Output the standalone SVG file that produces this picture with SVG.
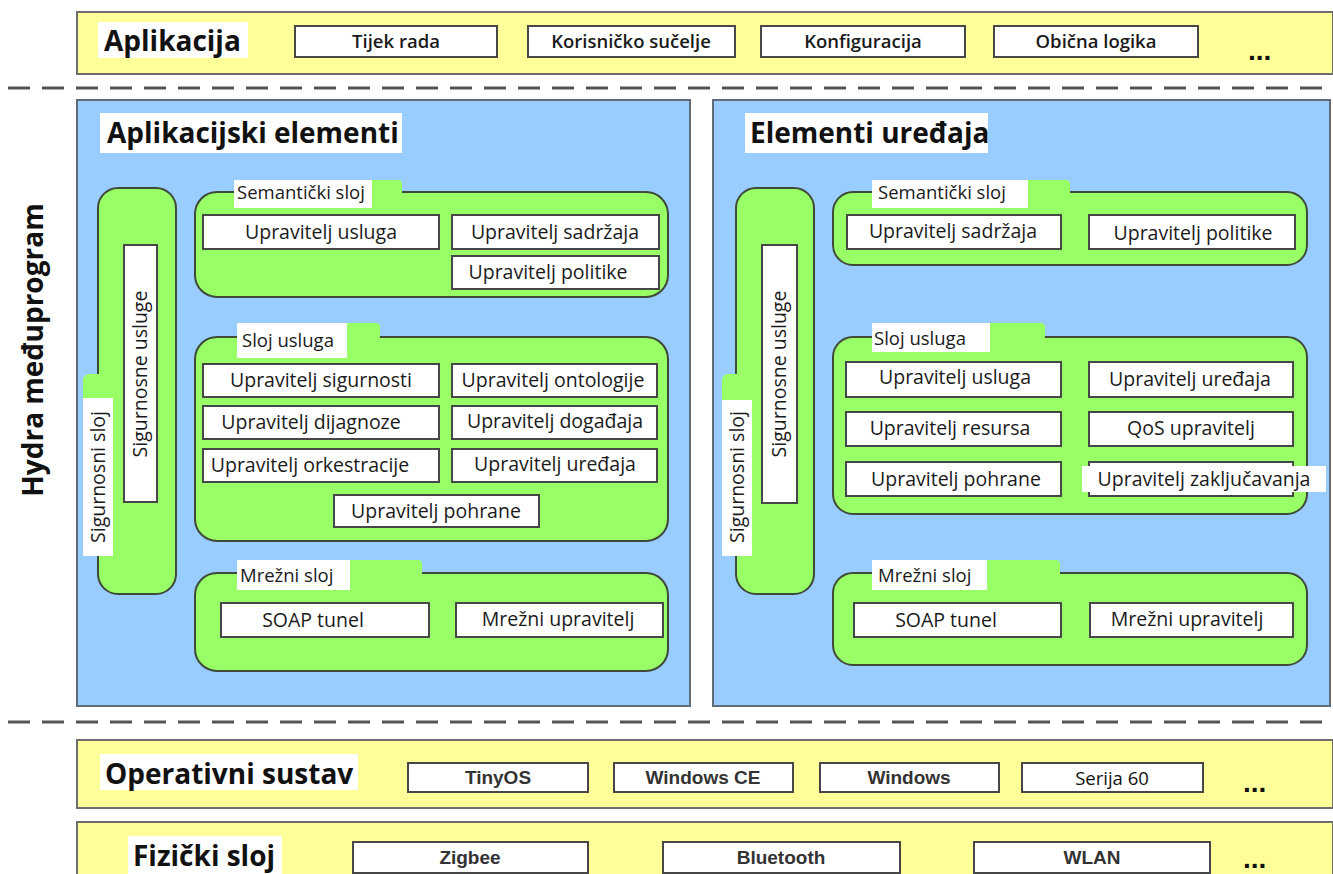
<svg xmlns="http://www.w3.org/2000/svg" width="1333" height="874" viewBox="0 0 1333 874">
  <style>
    .bar { fill: #ffff99; stroke: #6e6e6e; stroke-width: 2; }
    .panel { fill: #99ccff; stroke: #5f6b78; stroke-width: 2; }
    .layer { fill: #99ff66; stroke: #3e4a3a; stroke-width: 2; }
    .tab { fill: #99ff66; }
    .lbl { fill: #ffffff; }
    .box { fill: #ffffff; stroke: #474747; stroke-width: 2; }
    .sep { stroke: #555555; stroke-width: 3; stroke-dasharray: 22 12; fill: none; }
    .head { font-family: "Open Sans", "Noto Sans", sans-serif; font-weight: 700; font-size: 28px; fill: #111111; }
    .item { font-family: "Open Sans", "Noto Sans", sans-serif; font-size: 19.5px; fill: #1a1a1a; text-anchor: middle; }
    .tabt { font-family: "Open Sans", "Noto Sans", sans-serif; font-size: 18.5px; fill: #1a1a1a; }
    .vert { font-family: "Open Sans", "Noto Sans", sans-serif; font-size: 19.5px; fill: #1a1a1a; text-anchor: middle; }
    .top { font-family: "Open Sans", "Noto Sans", sans-serif; font-weight: 600; font-size: 18.5px; fill: #1a1a1a; text-anchor: middle; }
    .plain { font-family: "Open Sans", "Noto Sans", sans-serif; font-weight: 400; font-size: 18.5px; fill: #111111; text-anchor: middle; }
    .os { font-family: "Liberation Sans", Arial, sans-serif; font-weight: 700; font-size: 19px; fill: #333333; text-anchor: middle; }
    .dots { font-family: "Liberation Sans", Arial, sans-serif; font-weight: 700; font-size: 28px; fill: #111111; }
  </style>

  <rect width="1333" height="874" fill="#ffffff"/>

  <!-- side caption -->
  <text class="head" transform="translate(43,350) rotate(-90)" text-anchor="middle" font-size="29">Hydra međuprogram</text>

  <!-- application bar -->
  <g id="aplikacija">
    <rect class="bar" x="77" y="12" width="1256" height="62"/>
    <rect class="lbl" x="98" y="22" width="150" height="36"/>
    <text class="head" x="104" y="51" font-size="30">Aplikacija</text>
    <rect class="box" x="295" y="26" width="202" height="31"/>
    <text class="top" x="396" y="48">Tijek rada</text>
    <rect class="box" x="528" y="26" width="207" height="31"/>
    <text class="top" x="631" y="48">Korisničko sučelje</text>
    <rect class="box" x="761" y="26" width="204" height="31"/>
    <text class="top" x="863" y="48">Konfiguracija</text>
    <rect class="box" x="994" y="26" width="204" height="31"/>
    <text class="top" x="1096" y="48">Obična logika</text>
    <text class="dots" x="1248" y="60">...</text>
  </g>

  <!-- layer separators -->
  <g id="separators">
    <line class="sep" x1="8" y1="88" x2="1333" y2="88"/>
    <line class="sep" x1="8" y1="722" x2="1333" y2="722"/>
  </g>

  <!-- application elements -->
  <g id="aplikacijski-elementi">
    <rect class="panel" x="77" y="100" width="613" height="606"/>
    <rect class="lbl" x="100" y="113" width="302" height="40"/>
    <text class="head" x="107" y="143">Aplikacijski elementi</text>

    <!-- security column -->
    <rect class="layer" x="98" y="188" width="78" height="406" rx="20"/>
    <rect class="tab" x="83" y="374" width="22" height="30" rx="6"/>
    <rect class="lbl" x="83" y="398" width="30" height="158"/>
    <text class="vert" transform="translate(105,477) rotate(-90)">Sigurnosni sloj</text>
    <rect class="box" x="124" y="245" width="33" height="257"/>
    <text class="vert" transform="translate(147,374) rotate(-90)">Sigurnosne usluge</text>

    <!-- semantic layer -->
    <rect class="layer" x="195" y="192" width="473" height="105" rx="22"/>
    <rect class="tab" x="360" y="180" width="42" height="16" rx="4"/>
    <rect class="lbl" x="234" y="180" width="138" height="28"/>
    <text class="tabt" x="237" y="199">Semantički sloj</text>
    <rect class="box" x="203" y="215" width="236" height="34"/>
    <text class="item" x="321" y="239">Upravitelj usluga</text>
    <rect class="box" x="452" y="215" width="207" height="34"/>
    <text class="item" x="555" y="239">Upravitelj sadržaja</text>
    <rect class="box" x="452" y="256" width="207" height="33"/>
    <text class="item" x="548" y="279">Upravitelj politike</text>

    <!-- service layer -->
    <rect class="layer" x="195" y="337" width="473" height="204" rx="22"/>
    <rect class="tab" x="340" y="323" width="40" height="17" rx="4"/>
    <rect class="lbl" x="237" y="323" width="110" height="35"/>
    <text class="tabt" x="242" y="347">Sloj usluga</text>
    <rect class="box" x="203" y="364" width="236" height="33"/>
    <text class="item" x="321" y="387">Upravitelj sigurnosti</text>
    <rect class="box" x="452" y="364" width="205" height="33"/>
    <text class="item" x="553" y="387">Upravitelj ontologije</text>
    <rect class="box" x="203" y="406" width="236" height="33"/>
    <text class="item" x="311" y="429">Upravitelj dijagnoze</text>
    <rect class="box" x="452" y="406" width="205" height="33"/>
    <text class="item" x="555" y="428">Upravitelj događaja</text>
    <rect class="box" x="203" y="449" width="236" height="33"/>
    <text class="item" x="310" y="472">Upravitelj orkestracije</text>
    <rect class="box" x="452" y="449" width="205" height="33"/>
    <text class="item" x="555" y="471">Upravitelj uređaja</text>
    <rect class="box" x="334" y="495" width="205" height="32"/>
    <text class="item" x="436" y="518">Upravitelj pohrane</text>

    <!-- network layer -->
    <rect class="layer" x="195" y="573" width="473" height="98" rx="22"/>
    <rect class="tab" x="345" y="560" width="77" height="17" rx="4"/>
    <rect class="lbl" x="237" y="560" width="113" height="30"/>
    <text class="tabt" x="240" y="582">Mrežni sloj</text>
    <rect class="box" x="221" y="603" width="208" height="34"/>
    <text class="item" x="313" y="627">SOAP tunel</text>
    <rect class="box" x="456" y="603" width="207" height="34"/>
    <text class="item" x="558" y="626">Mrežni upravitelj</text>
  </g>

  <!-- device elements -->
  <g id="elementi-uredaja">
    <rect class="panel" x="713" y="100" width="617" height="606"/>
    <rect class="lbl" x="745" y="113" width="243" height="40"/>
    <text class="head" x="750" y="143">Elementi uređaja</text>

    <!-- security column -->
    <rect class="layer" x="736" y="188" width="78" height="406" rx="20"/>
    <rect class="tab" x="722" y="374" width="30" height="30" rx="6"/>
    <rect class="lbl" x="722" y="400" width="30" height="156"/>
    <text class="vert" transform="translate(744,477) rotate(-90)">Sigurnosni sloj</text>
    <rect class="box" x="762" y="245" width="35" height="258"/>
    <text class="vert" transform="translate(786,374) rotate(-90)">Sigurnosne usluge</text>

    <!-- semantic layer -->
    <rect class="layer" x="833" y="192" width="474" height="73" rx="20"/>
    <rect class="tab" x="1015" y="180" width="55" height="16" rx="4"/>
    <rect class="lbl" x="872" y="180" width="156" height="28"/>
    <text class="tabt" x="878" y="199">Semantički sloj</text>
    <rect class="box" x="847" y="215" width="214" height="34"/>
    <text class="item" x="953" y="238">Upravitelj sadržaja</text>
    <rect class="box" x="1089" y="215" width="206" height="34"/>
    <text class="item" x="1193" y="240">Upravitelj politike</text>

    <!-- service layer -->
    <rect class="layer" x="833" y="337" width="474" height="177" rx="20"/>
    <rect class="tab" x="985" y="323" width="60" height="17" rx="4"/>
    <rect class="lbl" x="872" y="323" width="118" height="29"/>
    <text class="tabt" x="874" y="345">Sloj usluga</text>
    <rect class="box" x="846" y="362" width="215" height="35"/>
    <text class="item" x="955" y="384">Upravitelj usluga</text>
    <rect class="box" x="1089" y="362" width="204" height="35"/>
    <text class="item" x="1190" y="386">Upravitelj uređaja</text>
    <rect class="box" x="846" y="412" width="215" height="34"/>
    <text class="item" x="950" y="435">Upravitelj resursa</text>
    <rect class="box" x="1089" y="412" width="204" height="34"/>
    <text class="item" x="1191" y="435">QoS upravitelj</text>
    <rect class="box" x="846" y="462" width="215" height="34"/>
    <text class="item" x="956" y="486">Upravitelj pohrane</text>
    <rect class="box" x="1089" y="462" width="204" height="34"/>
    <rect class="lbl" x="1082" y="466" width="244" height="26"/>
    <text class="item" x="1204" y="486">Upravitelj zaključavanja</text>

    <!-- network layer -->
    <rect class="layer" x="833" y="573" width="474" height="92" rx="20"/>
    <rect class="tab" x="980" y="560" width="80" height="17" rx="4"/>
    <rect class="lbl" x="872" y="560" width="115" height="30"/>
    <text class="tabt" x="878" y="582">Mrežni sloj</text>
    <rect class="box" x="854" y="603" width="207" height="34"/>
    <text class="item" x="946" y="627">SOAP tunel</text>
    <rect class="box" x="1090" y="603" width="203" height="34"/>
    <text class="item" x="1187" y="626">Mrežni upravitelj</text>
  </g>

  <!-- operating system bar -->
  <g id="operativni-sustav">
    <rect class="bar" x="77" y="740" width="1256" height="68"/>
    <rect class="lbl" x="100" y="754" width="258" height="36"/>
    <text class="head" x="105" y="784" font-size="30">Operativni sustav</text>
    <rect class="box" x="408" y="763" width="180" height="29"/>
    <text class="os" x="498" y="784">TinyOS</text>
    <rect class="box" x="614" y="763" width="179" height="29"/>
    <text class="os" x="703" y="784">Windows CE</text>
    <rect class="box" x="820" y="763" width="179" height="29"/>
    <text class="os" x="909" y="784">Windows</text>
    <rect class="box" x="1022" y="763" width="181" height="29"/>
    <text class="plain" x="1112" y="785">Serija 60</text>
    <text class="dots" x="1243" y="792">...</text>
  </g>

  <!-- physical layer bar -->
  <g id="fizicki-sloj">
    <rect class="bar" x="77" y="822" width="1256" height="60"/>
    <rect class="lbl" x="128" y="836" width="154" height="38"/>
    <text class="head" x="133" y="866" font-size="30">Fizički sloj</text>
    <rect class="box" x="353" y="842" width="235" height="31"/>
    <text class="os" x="470" y="864">Zigbee</text>
    <rect class="box" x="663" y="842" width="237" height="31"/>
    <text class="os" x="781" y="864">Bluetooth</text>
    <rect class="box" x="974" y="842" width="236" height="31"/>
    <text class="os" x="1092" y="864">WLAN</text>
    <text class="dots" x="1243" y="868">...</text>
  </g>
</svg>
